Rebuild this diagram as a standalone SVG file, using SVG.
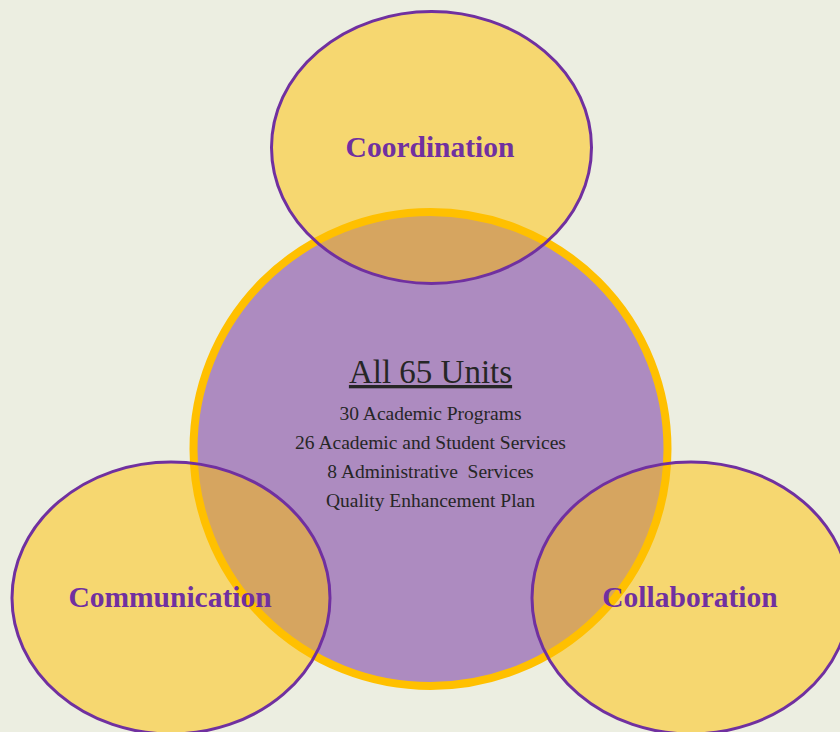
<svg xmlns="http://www.w3.org/2000/svg" width="840" height="732" viewBox="0 0 840 732">
<style>
.lbl{font-family:"Liberation Serif","Times New Roman",serif;font-weight:bold;font-size:29.5px;fill:#7030A0;text-anchor:middle}
.ell{fill:#FFC000;fill-opacity:0.5;stroke:#7030A0;stroke-width:3}
.body{font-family:"Liberation Serif","Times New Roman",serif;font-size:19.5px;fill:#262626;text-anchor:middle}
</style>
<rect x="0" y="0" width="840" height="732" fill="#ECEEE1"/>
<g id="units">
<circle cx="430.5" cy="449" r="237" fill="#AD8BC0" stroke="#FFC000" stroke-width="8"/>
<text x="430.5" y="383" font-family="Liberation Serif, Times New Roman, serif" font-size="33" fill="#262626" text-anchor="middle" text-decoration="underline">All 65 Units</text>
<text class="body" x="430.5" y="420">30 Academic Programs</text>
<text class="body" x="430.5" y="449">26 Academic and Student Services</text>
<text class="body" x="430.5" y="478" xml:space="preserve">8 Administrative  Services</text>
<text class="body" x="430.5" y="507">Quality Enhancement Plan</text>
</g>
<g id="coordination">
<ellipse class="ell" cx="431.5" cy="147.5" rx="160" ry="136"/>
<text class="lbl" x="430" y="157">Coordination</text>
</g>
<g id="communication">
<ellipse class="ell" cx="171" cy="598" rx="159" ry="136"/>
<text class="lbl" x="170" y="607">Communication</text>
</g>
<g id="collaboration">
<ellipse class="ell" cx="691" cy="598" rx="159" ry="136"/>
<text class="lbl" x="690" y="607">Collaboration</text>
</g>
<g id="connectors"/>
</svg>
